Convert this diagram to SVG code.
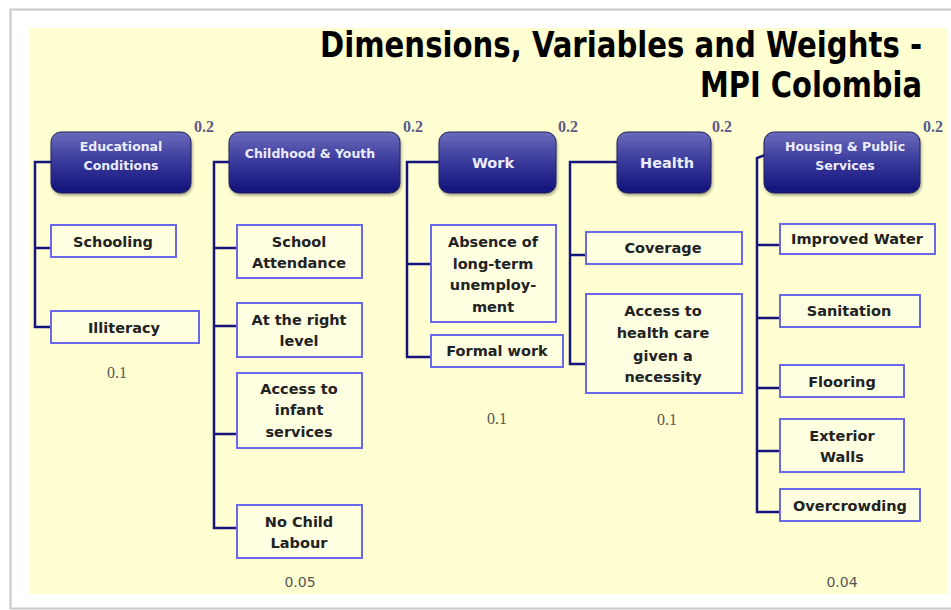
<svg xmlns="http://www.w3.org/2000/svg" width="951" height="610" viewBox="0 0 951 610">
<defs>
<linearGradient id="hg" x1="0" y1="0" x2="0" y2="1">
<stop offset="0" stop-color="#6b6bbb"/>
<stop offset="0.45" stop-color="#3d3d9e"/>
<stop offset="1" stop-color="#10107a"/>
</linearGradient>
<filter id="sh" x="-10%" y="-10%" width="130%" height="130%">
<feGaussianBlur in="SourceAlpha" stdDeviation="1.5"/>
<feOffset dx="1" dy="2" result="b"/>
<feComponentTransfer><feFuncA type="linear" slope="0.35"/></feComponentTransfer>
<feMerge><feMergeNode/><feMergeNode in="SourceGraphic"/></feMerge>
</filter>
</defs>
<style>
.hdr{fill:url(#hg);stroke:#22225e;stroke-width:1;filter:url(#sh)}
.ht{font-family:"DejaVu Sans",sans-serif;font-weight:bold;font-size:12.5px;fill:#ececff;text-anchor:middle}
.var{fill:#ffffe2;stroke:#6868e8;stroke-width:2}
.vt{font-family:"DejaVu Sans",sans-serif;font-weight:bold;font-size:14.5px;fill:#222222;text-anchor:middle}
.con{fill:none;stroke:#14147e;stroke-width:2.5}
.w2{font-family:"Liberation Serif",serif;font-weight:bold;font-size:16px;fill:#5a5a8a;text-anchor:middle}
.ws{font-family:"Liberation Serif",serif;font-size:16px;fill:#555555;text-anchor:middle}
.wa{font-family:"DejaVu Sans",sans-serif;font-size:14px;fill:#555555;text-anchor:middle}
.title{font-family:"DejaVu Sans Condensed","DejaVu Sans",sans-serif;font-weight:bold;font-size:35px;fill:#000000;text-anchor:end}
</style>
<rect x="0" y="0" width="951" height="610" fill="#ffffff"/>
<rect x="10.5" y="9.5" width="945" height="599" fill="#ffffff" stroke="#c8c8c8" stroke-width="2"/>
<rect x="29" y="28" width="918" height="566" fill="#ffffd2"/>

<g id="title">
<text class="title" x="922" y="57" textLength="602" lengthAdjust="spacingAndGlyphs">Dimensions, Variables and Weights -</text>
<text class="title" x="922" y="97" textLength="222" lengthAdjust="spacingAndGlyphs">MPI Colombia</text>
</g>

<g id="connectors">
<path class="con" d="M51 162H35V327H51M35 248H51"/>
<path class="con" d="M229 162H214V528H237M214 248H237M214 326H237M214 434H237"/>
<path class="con" d="M439 162H407V357H431M407 264H431"/>
<path class="con" d="M617 162H570V364H586M570 255H586"/>
<path class="con" d="M765 155L757 158V512H780M757 245H780M757 318H780M757 388H780M757 451H780"/>
</g>

<g id="weights">
<text class="w2" x="204" y="132">0.2</text>
<text class="w2" x="413" y="132">0.2</text>
<text class="w2" x="568" y="132">0.2</text>
<text class="w2" x="722" y="132">0.2</text>
<text class="w2" x="933" y="132">0.2</text>
<text class="ws" x="117" y="378">0.1</text>
<text class="ws" x="497" y="424">0.1</text>
<text class="ws" x="667" y="425">0.1</text>
<text class="wa" x="300" y="587">0.05</text>
<text class="wa" x="842" y="587">0.04</text>
</g>

<g id="educational">
<rect class="hdr" x="51" y="132" width="140" height="61" rx="10"/>
<text class="ht" x="121" y="150.5">Educational</text>
<text class="ht" x="121" y="169.5">Conditions</text>
</g>
<g id="childhood">
<rect class="hdr" x="229" y="132" width="171" height="61" rx="10"/>
<text class="ht" x="310" y="158">Childhood &amp; Youth</text>
</g>
<g id="work">
<rect class="hdr" x="439" y="132" width="117" height="61" rx="10"/>
<text class="ht" x="493" y="168" style="font-size:14.5px">Work</text>
</g>
<g id="health">
<rect class="hdr" x="617" y="132" width="94" height="61" rx="10"/>
<text class="ht" x="667" y="168" style="font-size:14.5px">Health</text>
</g>
<g id="housing">
<rect class="hdr" x="764" y="132" width="156" height="61" rx="10"/>
<text class="ht" x="845" y="150.5">Housing &amp; Public</text>
<text class="ht" x="845" y="169.5">Services</text>
</g>

<g id="schooling">
<rect class="var" x="51" y="225" width="125" height="32"/>
<text class="vt" x="113" y="246.5">Schooling</text>
</g>
<g id="illiteracy">
<rect class="var" x="51" y="311" width="148" height="32"/>
<text class="vt" x="124" y="333">Illiteracy</text>
</g>
<g id="school-attendance">
<rect class="var" x="237" y="225" width="125" height="53"/>
<text class="vt" x="299" y="246.5">School</text>
<text class="vt" x="299" y="268">Attendance</text>
</g>
<g id="right-level">
<rect class="var" x="237" y="303" width="125" height="54"/>
<text class="vt" x="299" y="325">At the right</text>
<text class="vt" x="299" y="346">level</text>
</g>
<g id="infant-services">
<rect class="var" x="237" y="373" width="125" height="75"/>
<text class="vt" x="299" y="394">Access to</text>
<text class="vt" x="299" y="415">infant</text>
<text class="vt" x="299" y="437">services</text>
</g>
<g id="child-labour">
<rect class="var" x="237" y="505" width="125" height="53"/>
<text class="vt" x="299" y="526.5">No Child</text>
<text class="vt" x="299" y="547.5">Labour</text>
</g>
<g id="unemployment">
<rect class="var" x="431" y="225" width="125" height="97"/>
<text class="vt" x="493" y="247">Absence of</text>
<text class="vt" x="493" y="268.7">long-term</text>
<text class="vt" x="493" y="290.4">unemploy-</text>
<text class="vt" x="493" y="312">ment</text>
</g>
<g id="formal-work">
<rect class="var" x="431" y="335" width="132" height="32"/>
<text class="vt" x="497" y="356">Formal work</text>
</g>
<g id="coverage">
<rect class="var" x="586" y="232" width="156" height="32"/>
<text class="vt" x="663" y="253">Coverage</text>
</g>
<g id="health-care">
<rect class="var" x="586" y="294" width="156" height="99"/>
<text class="vt" x="663" y="316">Access to</text>
<text class="vt" x="663" y="338">health care</text>
<text class="vt" x="663" y="360.5">given a</text>
<text class="vt" x="663" y="382">necessity</text>
</g>
<g id="water">
<rect class="var" x="780" y="224" width="155" height="30"/>
<text class="vt" x="857" y="244">Improved Water</text>
</g>
<g id="sanitation">
<rect class="var" x="780" y="295" width="140" height="32"/>
<text class="vt" x="849" y="315.5">Sanitation</text>
</g>
<g id="flooring">
<rect class="var" x="780" y="365" width="124" height="32"/>
<text class="vt" x="842" y="386.5">Flooring</text>
</g>
<g id="walls">
<rect class="var" x="780" y="419" width="124" height="53"/>
<text class="vt" x="842" y="440.5">Exterior</text>
<text class="vt" x="842" y="461.5">Walls</text>
</g>
<g id="overcrowding">
<rect class="var" x="780" y="489" width="140" height="32"/>
<text class="vt" x="850" y="510.5">Overcrowding</text>
</g>
</svg>
